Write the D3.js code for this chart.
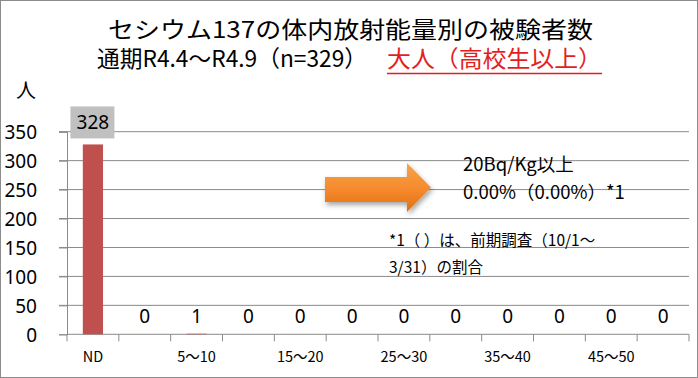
<!DOCTYPE html>
<meta charset="utf-8">
<html>
<head>
    <title>セシウム137の体内放射能量別の被験者数</title>
    <script src="https://cdn.jsdelivr.net/npm/d3@7"></script>
</head>
<style>
    body{
        margin: 0;
        background: white;
    }
    svg{
        display: block;
    }
    text{
        font-family: "Noto Sans CJK JP", "Noto Sans", sans-serif;
        fill: black;
    }
</style>
<body>
<svg width="698" height="378"></svg>
<script>
    // data
    let categories = ["ND", "1～5", "5～10", "10～15", "15～20", "20～25", "25～30", "30～35", "35～40", "40～45", "45～50", "50～"]
    let counts = [328, 0, 1, 0, 0, 0, 0, 0, 0, 0, 0, 0]
    let yTicks = [0, 50, 100, 150, 200, 250, 300, 350]

    let titleLine1 = "セシウム137の体内放射能量別の被験者数"
    let titleLine2a = "通期R4.4～R4.9（n=329）"
    let titleLine2b = "大人（高校生以上）"
    let noteLines = ["20Bq/Kg以上", "0.00%（0.00%）*1"]
    let footLines = ["*1（  ）は、前期調査（10/1～", "3/31）の割合"]

    let svg = d3.select("svg")

    // outer border
    svg.append("rect")
        .attr("x", 0.5).attr("y", 0.5)
        .attr("width", 697).attr("height", 377)
        .attr("fill", "white")
        .attr("stroke", "#8c8c8c")

    // scales
    let x = d3.scaleBand().domain(categories).range([67, 689]).padding(0)
    let y = d3.scaleLinear().domain([0, 350]).range([334.3, 131.7])

    // gridlines
    svg.append("g")
        .selectAll("line")
        .data(yTicks.filter(d => d > 0))
        .enter()
        .append("line")
        .attr("x1", 59).attr("x2", 689)
        .attr("y1", d => y(d)).attr("y2", d => y(d))
        .attr("stroke", "#8a8a8a")
        .attr("stroke-width", 1)

    // y axis
    let yAxis = svg.append("g")
        .attr("transform", "translate(67,0)")
        .call(d3.axisLeft(y).tickValues(yTicks).tickSize(8).tickPadding(22))
    yAxis.select(".domain").attr("stroke", "#8a8a8a")
    yAxis.selectAll(".tick line").attr("stroke", "#8a8a8a")
    yAxis.selectAll(".tick text")
        .style("font-family", "'Noto Sans', sans-serif")
        .attr("font-size", 19)
        .attr("dy", "0.36em")

    // x axis: ticks at band edges
    let edges = categories.map(c => x(c)).concat([x.range()[1]])
    let xAxis = svg.append("g")
    xAxis.append("line")
        .attr("x1", 67).attr("x2", 689)
        .attr("y1", y(0)).attr("y2", y(0))
        .attr("stroke", "#8a8a8a")
    xAxis.selectAll("line.tk")
        .data(edges)
        .enter()
        .append("line")
        .attr("class", "tk")
        .attr("x1", d => d).attr("x2", d => d)
        .attr("y1", y(0)).attr("y2", y(0) + 7)
        .attr("stroke", "#8a8a8a")
    xAxis.selectAll("text")
        .data(categories.filter((d, i) => i % 2 === 0))
        .enter()
        .append("text")
        .attr("x", d => x(d) + x.bandwidth() / 2)
        .attr("y", 362)
        .attr("text-anchor", "middle")
        .attr("font-size", 14.5)
        .text(d => d)

    // bars
    let barW = x.bandwidth() * 0.39
    svg.append("g")
        .selectAll("rect")
        .data(counts)
        .enter()
        .append("rect")
        .attr("x", (d, i) => x(categories[i]) + (x.bandwidth() - barW) / 2)
        .attr("y", d => y(d))
        .attr("width", barW)
        .attr("height", d => y(0) - y(d))
        .attr("fill", "#c0504d")

    // value labels
    let labels = svg.append("g")
    counts.forEach(function(v, i) {
        let cx = x(categories[i]) + x.bandwidth() / 2
        if (v > 50) {
            labels.append("rect")
                .attr("x", cx - 22.5).attr("y", y(v) - 38)
                .attr("width", 44).attr("height", 32)
                .attr("fill", "#c0c0c0")
            labels.append("text")
                .attr("x", cx).attr("y", y(v) - 15)
                .attr("text-anchor", "middle")
                .attr("font-size", 19)
                .style("font-family", "'Noto Sans', sans-serif")
                .text(v)
        } else {
            labels.append("text")
                .attr("x", cx).attr("y", 323)
                .attr("text-anchor", "middle")
                .attr("font-size", 19)
                .style("font-family", "'Noto Sans', sans-serif")
                .text(v)
        }
    })

    // unit label
    svg.append("text")
        .attr("x", 26).attr("y", 98)
        .attr("text-anchor", "middle")
        .attr("font-size", 20)
        .text("人")

    // title
    svg.append("text")
        .attr("x", 108).attr("y", 38)
        .attr("font-size", 23)
        .attr("textLength", 485)
        .attr("lengthAdjust", "spacingAndGlyphs")
        .text(titleLine1)
    svg.append("text")
        .attr("x", 97).attr("y", 67)
        .attr("font-size", 23)
        .attr("textLength", 270)
        .attr("lengthAdjust", "spacingAndGlyphs")
        .text(titleLine2a)
    svg.append("text")
        .attr("x", 387).attr("y", 67)
        .attr("font-size", 23)
        .attr("textLength", 215)
        .attr("lengthAdjust", "spacingAndGlyphs")
        .style("fill", "#e31e1e")
        .text(titleLine2b)
    svg.append("line")
        .attr("x1", 387).attr("x2", 602)
        .attr("y1", 73.5).attr("y2", 73.5)
        .attr("stroke", "#e31e1e")
        .attr("stroke-width", 1.5)

    // arrow
    let defs = svg.append("defs")
    let grad = defs.append("linearGradient")
        .attr("id", "arrowGrad")
        .attr("x1", 0).attr("y1", 0).attr("x2", 0).attr("y2", 1)
    grad.append("stop").attr("offset", "0%").attr("stop-color", "#f9a349")
    grad.append("stop").attr("offset", "55%").attr("stop-color", "#f5892c")
    grad.append("stop").attr("offset", "100%").attr("stop-color", "#e0700f")
    let shadow = defs.append("filter").attr("id", "shadow")
        .attr("x", "-20%").attr("y", "-20%").attr("width", "150%").attr("height", "160%")
    shadow.append("feDropShadow")
        .attr("dx", 1.5).attr("dy", 3)
        .attr("stdDeviation", 2.5)
        .attr("flood-color", "#000").attr("flood-opacity", 0.35)

    svg.append("path")
        .attr("d", "M325,177 L407,177 L407,163 L431,187.5 L407,212 L407,202 L325,202 Z")
        .attr("fill", "url(#arrowGrad)")
        .attr("filter", "url(#shadow)")

    // notes
    svg.append("g")
        .selectAll("text")
        .data(noteLines)
        .enter()
        .append("text")
        .attr("x", 463)
        .attr("y", (d, i) => 171 + i * 28)
        .attr("font-size", 18.5)
        .text(d => d)
    svg.append("g")
        .selectAll("text")
        .data(footLines)
        .enter()
        .append("text")
        .attr("x", 389)
        .attr("y", (d, i) => 246 + i * 27)
        .attr("font-size", 15.5)
        .text(d => d)
</script>
</body>
</html>
